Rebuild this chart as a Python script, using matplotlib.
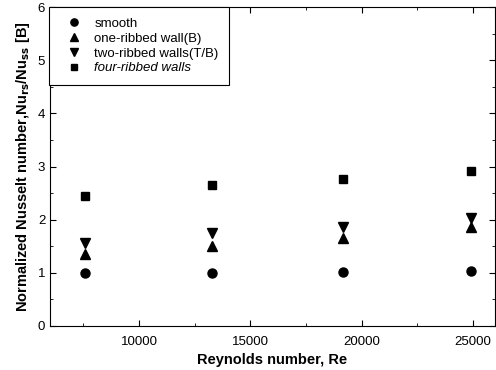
import matplotlib.pyplot as plt
from matplotlib.ticker import MultipleLocator

plt.rcParams['font.family'] = ['Liberation Sans', 'DejaVu Sans']

re = [7560, 13300, 19150, 24900]
smooth = [1.00, 1.00, 1.02, 1.03]
one_ribbed = [1.36, 1.51, 1.65, 1.87]
two_ribbed = [1.57, 1.74, 1.86, 2.03]
four_ribbed = [2.45, 2.66, 2.76, 2.92]

fig = plt.figure(figsize=(4.96, 3.70), dpi=100)
ax = fig.add_axes([0.101, 0.119, 0.897, 0.862])

ax.plot(re, smooth, 'o', color='black', ms=6.5, label='smooth')
ax.plot(re, one_ribbed, '^', color='black', ms=6.5, label='one-ribbed wall(B)')
ax.plot(re, two_ribbed, 'v', color='black', ms=6.5, label='two-ribbed walls(T/B)')
ax.plot(re, four_ribbed, 's', color='black', ms=6, label='four-ribbed walls')

ax.set_xlim(6000, 26000)
ax.set_ylim(0, 6)
ax.xaxis.set_major_locator(MultipleLocator(5000))
ax.xaxis.set_minor_locator(MultipleLocator(2500))
ax.yaxis.set_major_locator(MultipleLocator(1))
ax.yaxis.set_minor_locator(MultipleLocator(0.5))
ax.tick_params(which='both', direction='in', top=True, right=True, labelsize=9.5)
ax.tick_params(which='major', length=4)
ax.tick_params(which='minor', length=2)
ax.tick_params(axis='x', pad=7)

ax.set_xlabel('Reynolds number, Re', fontsize=10.5, fontweight='bold', labelpad=4)
ax.set_ylabel('Normalized Nusselt number,Nu$_{\\mathbf{rs}}$/Nu$_{\\mathbf{ss}}$ [B]',
              fontsize=10.5, fontweight='bold', labelpad=4)

leg = ax.legend(loc='upper left', bbox_to_anchor=(-0.003, 1.0), fontsize=9.5,
                frameon=True, fancybox=False, edgecolor='black', framealpha=1,
                borderaxespad=0, handletextpad=0.45, labelspacing=0.2,
                borderpad=0.8, handlelength=2.2, markerscale=0.8)
leg.get_frame().set_linewidth(0.8)
leg.get_texts()[3].set_style('italic')

fig.savefig('out.png', dpi=100)
